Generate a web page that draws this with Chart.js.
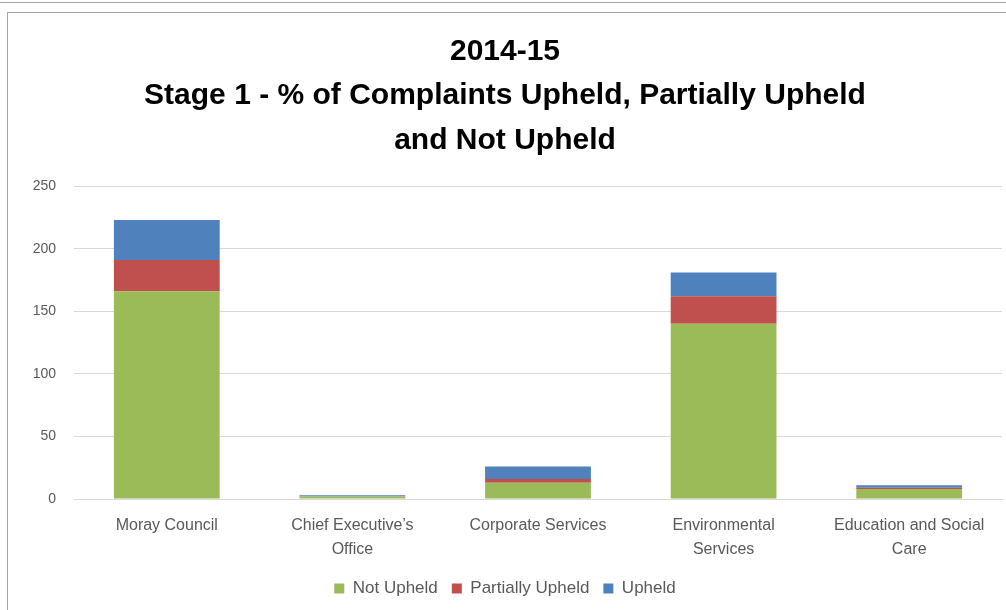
<!DOCTYPE html>
<html>
<head>
<meta charset="utf-8">
<script src="https://cdn.jsdelivr.net/npm/chart.js@4"></script>
<style>
  html, body { margin: 0; padding: 0; background: #fff; }
  body { width: 1006px; height: 610px; position: relative; overflow: hidden; }
  .topline { position: absolute; left: 0; top: 0; width: 1006px; height: 2px; border-bottom: 1px solid #a6a6a6; }
  .frame { position: absolute; left: 7px; top: 12px; width: 1010px; height: 610px; border: 1px solid #a6a6a6; box-sizing: border-box; }
  .wrap { position: absolute; left: 8px; top: 13px; width: 998px; height: 597px; }
</style>
</head>
<body>
<div class="topline"></div>
<div class="frame"></div>
<div class="wrap"><canvas id="stageChart"></canvas></div>
<script>
// categories and series
const categories = [
    'Moray Council',
    ['Chief Executive\u2019s', 'Office'],
    'Corporate Services',
    ['Environmental', 'Services'],
    ['Education and Social', 'Care']
];
const notUpheld = [166, 2, 13, 140, 8];
const partiallyUpheld = [25, 0, 3, 22, 1];
const upheld = [32, 1, 10, 19, 2];
const titleLines = ['2014-15', 'Stage 1 - % of Complaints Upheld, Partially Upheld', 'and Not Upheld'];

const baseFont = "'Liberation Sans', Arial, sans-serif";

const ctx = document.getElementById('stageChart').getContext('2d');
new Chart(ctx, {
    type: 'bar',
    data: {
        labels: categories,
        datasets: [{
            label: 'Not Upheld',
            data: notUpheld,
            backgroundColor: '#9bbb59'
        }, {
            label: 'Partially Upheld',
            data: partiallyUpheld,
            backgroundColor: '#c0504d'
        }, {
            label: 'Upheld',
            data: upheld,
            backgroundColor: '#4f81bd'
        }]
    },
    options: {
        responsive: true,
        maintainAspectRatio: false,
        animation: false,
        layout: { padding: { left: 0, right: 4, top: 16, bottom: 3 } },
        datasets: { bar: { barPercentage: 0.57, categoryPercentage: 1 } },
        plugins: {
            title: {
                display: true,
                text: titleLines,
                color: '#000',
                font: { family: baseFont, size: 30, weight: 'bold', lineHeight: 1.49 },
                padding: { top: 0, bottom: 23 }
            },
            legend: {
                position: 'bottom',
                labels: {
                    boxWidth: 10,
                    boxHeight: 10,
                    color: '#595959',
                    font: { family: baseFont, size: 17 },
                    padding: 14
                }
            },
            tooltip: { enabled: false }
        },
        scales: {
            x: {
                stacked: true,
                afterFit: (scale) => { scale.height = 67; },
                grid: { display: false },
                border: { color: '#d9d9d9' },
                ticks: {
                    color: '#595959',
                    maxRotation: 0,
                    autoSkip: false,
                    padding: 7,
                    font: { family: baseFont, size: 16, lineHeight: 1.5 }
                }
            },
            y: {
                stacked: true,
                min: 0,
                max: 250,
                afterFit: (scale) => { scale.width = 66; },
                grid: { color: '#d9d9d9', drawTicks: false },
                border: { display: false },
                ticks: {
                    stepSize: 50,
                    color: '#595959',
                    padding: 18,
                    font: { family: baseFont, size: 14 }
                }
            }
        }
    }
});
</script>
</body>
</html>
